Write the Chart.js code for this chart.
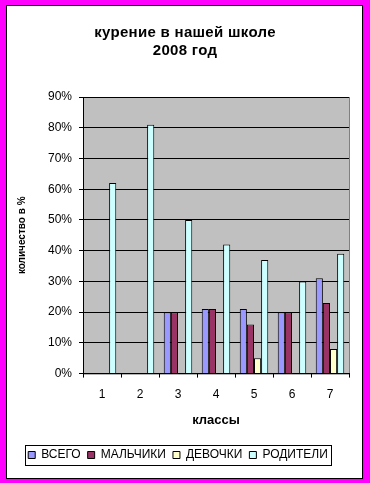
<!DOCTYPE html>
<html>
<head>
<meta charset="utf-8">
<script src="https://cdn.jsdelivr.net/npm/chart.js@4/dist/chart.umd.min.js"></script>
<style>
  body { margin: 0; background: #ff00ff; }
  #frame { position: absolute; left: 0; top: 0; width: 370px; height: 483px; background: #ff00ff; }
  #box { position: absolute; left: 6px; top: 5px; width: 355px; height: 472px; border: 1px solid #000; background: #fff; }
  canvas { display: block; }
</style>
</head>
<body>
<div id="frame">
  <div id="box"><canvas id="chart" width="355" height="472"></canvas></div>
</div>
<script>
const titleLines = ['курение в нашей школе', '2008 год'];
const classes = ['1', '2', '3', '4', '5', '6', '7'];
const seriesNames = ['ВСЕГО', 'МАЛЬЧИКИ', 'ДЕВОЧКИ', 'РОДИТЕЛИ'];
const vsego = [0, 0, 20, 21, 21, 20, 31];
const malchiki = [0, 0, 20, 21, 16, 20, 23];
const devochki = [0, 0, 0, 0, 5, 0, 8];
const roditeli = [62, 81, 50, 42, 37, 30, 39];
const colors = ['#9999ff', '#993366', '#ffffcc', '#ccffff'];
const font = 'Arial, "Liberation Sans", sans-serif';

// серый фон области построения
const plotBg = {
  id: 'plotBg',
  beforeDraw(chart) {
    const { ctx, chartArea: a } = chart;
    ctx.save();
    ctx.fillStyle = '#c0c0c0';
    ctx.fillRect(a.left, a.top, a.right - a.left, a.bottom - a.top);
    ctx.strokeStyle = '#808080';
    ctx.lineWidth = 1;
    ctx.strokeRect(a.left + 0.5, a.top + 0.5, a.right - a.left, a.bottom - a.top);
    ctx.restore();
  }
};

// заголовок с разрядкой + рамка легенды
const extras = {
  id: 'extras',
  afterDraw(chart) {
    const ctx = chart.ctx;
    ctx.save();
    ctx.fillStyle = '#000';
    ctx.font = 'bold 15px ' + font;
    ctx.letterSpacing = '0.3px';
    ctx.textAlign = 'center';
    ctx.textBaseline = 'middle';
    ctx.fillText(titleLines[0], 178, 27);
    ctx.fillText(titleLines[1], 178, 45);
    ctx.restore();

    const hb = chart.legend.legendHitBoxes;
    if (hb && hb.length) {
      const left = hb[0].left - 3;
      const last = hb[hb.length - 1];
      const right = last.left + last.width + 3;
      const top = hb[0].top - 4;
      const bottom = hb[0].top + hb[0].height + 4;
      ctx.save();
      ctx.strokeStyle = '#000';
      ctx.lineWidth = 1;
      ctx.strokeRect(Math.round(left) + 0.5, Math.round(top) + 0.5, Math.round(right - left), Math.round(bottom - top));
      ctx.restore();
    }
  }
};

const seriesData = [vsego, malchiki, devochki, roditeli];

new Chart(document.getElementById('chart'), {
  type: 'bar',
  data: {
    labels: classes,
    datasets: seriesNames.map((name, i) => ({
      label: name,
      data: seriesData[i],
      backgroundColor: colors[i],
      borderColor: '#000',
      borderWidth: 1,
      barPercentage: 1,
      categoryPercentage: 0.75
    }))
  },
  options: {
    responsive: false,
    animation: false,
    layout: { padding: { top: 91, right: 13, bottom: 7, left: 0 } },
    plugins: {
      title: { display: false },
      tooltip: { enabled: false },
      legend: {
        position: 'bottom',
        labels: {
          boxWidth: 7,
          boxHeight: 7,
          padding: 7,
          color: '#000',
          font: { family: font, size: 12 }
        }
      }
    },
    scales: {
      x: {
        grid: { drawOnChartArea: false, color: '#000', tickLength: 4 },
        border: { color: '#000' },
        ticks: { color: '#000', padding: 10, font: { family: font, size: 12 } },
        title: {
          display: true,
          text: 'классы',
          color: '#000',
          font: { family: font, size: 13, weight: 'bold', lineHeight: 1 },
          padding: { top: 2, bottom: 15 }
        }
      },
      y: {
        min: 0,
        max: 90,
        afterFit(scale) { scale.width = 76; },
        grid: { color: '#000', tickLength: 4 },
        border: { color: '#000' },
        ticks: {
          stepSize: 10,
          color: '#000',
          padding: 7,
          font: { family: font, size: 12 },
          callback: v => v + '%'
        },
        title: {
          display: true,
          text: 'количество в %',
          color: '#000',
          font: { family: font, size: 10, weight: 'bold' },
          padding: { top: 9, bottom: 0 }
        }
      }
    }
  },
  plugins: [plotBg, extras]
});
</script>
</body>
</html>
